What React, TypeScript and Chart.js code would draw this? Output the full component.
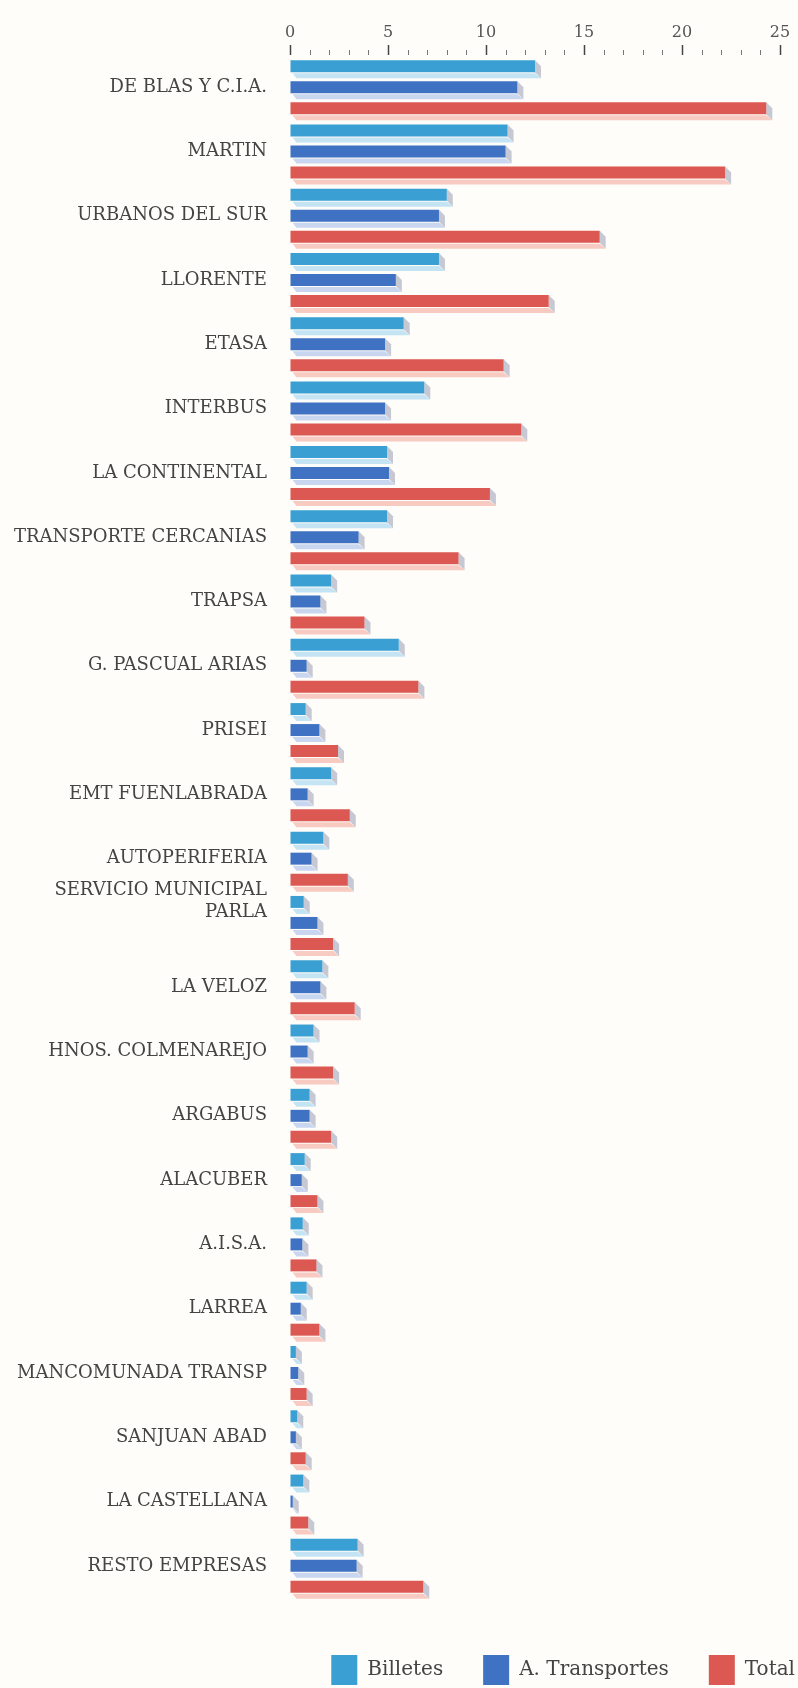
import React, { useEffect, useRef } from 'react';
import { Chart, registerables } from 'chart.js';

Chart.register(...registerables);

const categories: (string | string[])[] = [
  'DE BLAS Y C.I.A.',
  'MARTIN',
  'URBANOS DEL SUR',
  'LLORENTE',
  'ETASA',
  'INTERBUS',
  'LA CONTINENTAL',
  'TRANSPORTE CERCANIAS',
  'TRAPSA',
  'G. PASCUAL ARIAS',
  'PRISEI',
  'EMT FUENLABRADA',
  'AUTOPERIFERIA',
  ['SERVICIO MUNICIPAL', 'PARLA', '', ''],
  'LA VELOZ',
  'HNOS. COLMENAREJO',
  'ARGABUS',
  'ALACUBER',
  'A.I.S.A.',
  'LARREA',
  'MANCOMUNADA TRANSP',
  'SANJUAN ABAD',
  'LA CASTELLANA',
  'RESTO EMPRESAS',
];

const billetes = [
  12.5, 11.1, 8.0, 7.6, 5.8, 6.85, 4.95, 4.95, 2.1, 5.55, 0.8, 2.1, 1.7, 0.7,
  1.65, 1.2, 1.0, 0.75, 0.65, 0.85, 0.3, 0.37, 0.68, 3.45,
];

const aTransportes = [
  11.6, 11.0, 7.6, 5.4, 4.85, 4.85, 5.05, 3.5, 1.55, 0.85, 1.5, 0.9, 1.1, 1.4,
  1.55, 0.9, 1.0, 0.6, 0.63, 0.55, 0.42, 0.3, 0.14, 3.4,
];

const total = [
  24.3, 22.2, 15.8, 13.2, 10.9, 11.8, 10.2, 8.6, 3.8, 6.55, 2.45, 3.05, 2.95,
  2.2, 3.3, 2.2, 2.1, 1.4, 1.35, 1.5, 0.85, 0.8, 0.93, 6.8,
];

const seriesNames = ['Billetes', 'A. Transportes', 'Total'];
const seriesColors = ['#3a9fd2', '#3f72c2', '#dc5853'];
const seriesShadows = ['#c4e4f4', '#c9d6f0', '#f8cbc2'];

const axisMin = 0;
const axisMax = 25;
const majorStep = 5;
const minorStep = 1;

const DX = 6;
const DY = 6;

const extrudePlugin = {
  id: 'extrude',
  beforeDatasetsDraw(chart: any) {
    const ctx = chart.ctx;
    ctx.save();
    chart.data.datasets.forEach((ds: any, i: number) => {
      const meta = chart.getDatasetMeta(i);
      meta.data.forEach((el: any) => {
        const { x, y, base, height } = el.getProps(['x', 'y', 'base', 'height'], true);
        const top = y - height / 2;
        const bot = y + height / 2;
        ctx.fillStyle = ds.shadowColor;
        ctx.beginPath();
        ctx.moveTo(base + 2, bot + 1);
        ctx.lineTo(x, bot + 1);
        ctx.lineTo(x + DX, bot + DY);
        ctx.lineTo(base + DX, bot + DY);
        ctx.closePath();
        ctx.fill();
        ctx.fillStyle = 'rgba(188,192,205,0.85)';
        ctx.beginPath();
        ctx.moveTo(x, top);
        ctx.lineTo(x + DX, top + DY);
        ctx.lineTo(x + DX, bot + DY);
        ctx.lineTo(x, bot);
        ctx.closePath();
        ctx.fill();
      });
    });
    ctx.restore();
  },
};

const minorTickPlugin = {
  id: 'minorTicks',
  afterDraw(chart: any) {
    const scale = chart.scales.x;
    const ctx = chart.ctx;
    const top = chart.chartArea.top;
    ctx.save();
    ctx.strokeStyle = '#777';
    ctx.lineWidth = 1;
    for (let v = axisMin; v <= axisMax; v += minorStep) {
      if (v % majorStep === 0) continue;
      const px = Math.round(scale.getPixelForValue(v)) + 0.5;
      ctx.beginPath();
      ctx.moveTo(px, top - 5);
      ctx.lineTo(px, top);
      ctx.stroke();
    }
    ctx.restore();
  },
};

export default function App() {
  const ref = useRef<HTMLCanvasElement | null>(null);

  useEffect(() => {
    document.body.style.margin = '0';
    document.body.style.overflow = 'hidden';
    document.body.style.background = '#fefdf9';
    const canvas = ref.current;
    if (!canvas) return;
    const values = [billetes, aTransportes, total];
    const chart = new Chart(canvas, {
      type: 'bar',
      data: {
        labels: categories,
        datasets: seriesNames.map((name, i) => ({
          label: name,
          data: values[i],
          backgroundColor: seriesColors[i],
          shadowColor: seriesShadows[i],
          borderWidth: 0,
          categoryPercentage: 0.98,
          barPercentage: 0.57,
          xAxisID: 'x',
          yAxisID: 'y',
        })) as any,
      },
      options: {
        indexAxis: 'y',
        animation: false,
        responsive: false,
        maintainAspectRatio: false,
        layout: { padding: 0 },
        plugins: {
          tooltip: { enabled: false },
          legend: {
            position: 'bottom',
            align: 'end',
            labels: {
              boxWidth: 26,
              boxHeight: 30,
              padding: 40,
              color: '#444',
              font: { family: 'DejaVu Serif', size: 20 },
            },
          },
        },
        scales: {
          x: {
            type: 'linear',
            position: 'top',
            min: axisMin,
            max: axisMax,
            afterFit: (s: any) => {
              s.height = 55;
            },
            ticks: {
              stepSize: majorStep,
              includeBounds: false,
              padding: 3,
              color: '#555',
              font: { family: 'DejaVu Serif', size: 16 },
            },
            grid: {
              drawOnChartArea: false,
              drawTicks: true,
              tickLength: 10,
              tickColor: '#444',
              tickWidth: 1.5,
            },
            border: { display: false },
          },
          xb: {
            type: 'linear',
            position: 'bottom',
            min: 0,
            max: 1,
            afterFit: (s: any) => {
              s.height = 17;
            },
            ticks: { display: false },
            grid: { display: false },
            border: { display: false },
          },
          y: {
            type: 'category',
            position: 'left',
            afterFit: (s: any) => {
              s.width = 290;
            },
            ticks: {
              autoSkip: false,
              padding: 23,
              color: '#444',
              font: { family: 'DejaVu Serif', size: 18 },
            },
            grid: { display: false, drawTicks: false },
            border: { display: false },
          },
          yr: {
            type: 'linear',
            position: 'right',
            min: 0,
            max: 1,
            afterFit: (s: any) => {
              s.width = 55;
            },
            ticks: { display: false },
            grid: { display: false },
            border: { display: false },
          },
        },
      } as any,
      plugins: [extrudePlugin, minorTickPlugin],
    });
    return () => chart.destroy();
  }, []);

  return (
    <div style={{ width: 798, height: 1688, overflow: 'hidden', background: '#fefdf9' }}>
      <canvas ref={ref} width={835} height={1695} style={{ display: 'block' }} />
    </div>
  );
}
